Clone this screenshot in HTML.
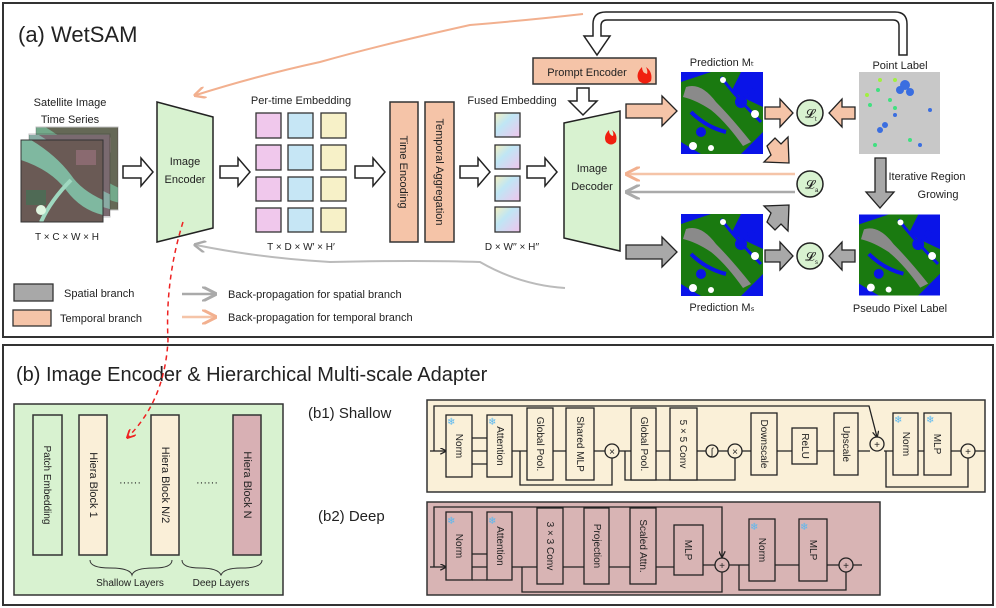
<!DOCTYPE html>
<html><head><meta charset="utf-8"><style>
html,body{margin:0;padding:0;background:#fff}
svg{display:block}
text{font-family:"Liberation Sans",sans-serif;fill:#222}
</style></head><body>
<svg width="996" height="608" viewBox="0 0 996 608" xmlns="http://www.w3.org/2000/svg">
<defs>
<linearGradient id="fg" x1="0" y1="0" x2="1" y2="1"><stop offset="0" stop-color="#f5f0c0"/><stop offset="0.4" stop-color="#bfe6f5"/><stop offset="1" stop-color="#f0c4ec"/></linearGradient>
<symbol id="map" viewBox="0 0 82 82">
<rect width="82" height="82" fill="#0a14e8"/>
<path d="M0 10 L30 0 L60 0 L50 20 L82 35 L82 60 L60 82 L20 82 L0 70 Z" fill="#1a7a10"/>
<path d="M5 15 Q20 10 35 30 Q50 45 70 70 L62 74 Q45 50 30 38 Q15 28 2 25 Z" fill="#8a8a8a"/>
<path d="M40 5 Q55 25 80 50" stroke="#0a14e8" stroke-width="3" fill="none"/>
<path d="M10 40 Q25 55 45 60" stroke="#0a14e8" stroke-width="4" fill="none"/>
<circle cx="20" cy="60" r="5" fill="#0a14e8"/><circle cx="60" cy="30" r="6" fill="#0a14e8"/><circle cx="70" cy="20" r="4" fill="#0a14e8"/>
<circle cx="12" cy="74" r="4" fill="#fff"/><circle cx="74" cy="42" r="4" fill="#fff"/><circle cx="30" cy="76" r="3" fill="#fff"/><circle cx="42" cy="8" r="3" fill="#fff"/>
</symbol>
<symbol id="sat" viewBox="0 0 82 82">
<rect width="82" height="82" fill="#6a5a55"/>
<path d="M0 20 Q30 30 45 50 Q60 70 82 75 L82 60 Q60 50 50 35 Q35 15 10 0 L0 0 Z" fill="#7fb8a0"/>
<path d="M20 82 Q30 60 50 40" stroke="#9fd8c0" stroke-width="4" fill="none"/>
<rect x="5" y="50" width="20" height="15" fill="#4f6a55"/><rect x="55" y="10" width="20" height="15" fill="#8a6a70"/>
<circle cx="20" cy="70" r="5" fill="#dff5e0"/>
</symbol>
<marker id="ag" viewBox="0 0 10 10" refX="8" refY="5" markerWidth="6" markerHeight="6" orient="auto"><path d="M0 0 L10 5 L0 10" fill="none" stroke="#aaa" stroke-width="2"/></marker>
<marker id="ao" viewBox="0 0 10 10" refX="8" refY="5" markerWidth="6" markerHeight="6" orient="auto"><path d="M0 0 L10 5 L0 10" fill="none" stroke="#f2b08f" stroke-width="2"/></marker>
<marker id="ar" viewBox="0 0 10 10" refX="8" refY="5" markerWidth="6" markerHeight="6" orient="auto"><path d="M0 0 L10 5 L0 10" fill="none" stroke="#e22" stroke-width="2"/></marker>
<marker id="ak" viewBox="0 0 10 10" refX="9" refY="5" markerWidth="5" markerHeight="5" orient="auto"><path d="M0 0 L10 5 L0 10" fill="none" stroke="#222" stroke-width="2"/></marker>
</defs>

<!-- Panel a -->
<rect x="3" y="3" width="990" height="334" fill="#fff" stroke="#333" stroke-width="2"/>
<text x="18" y="42" font-size="22">(a) WetSAM</text>

<text x="70" y="106" font-size="11" text-anchor="middle">Satellite Image</text>
<text x="70" y="123" font-size="11" text-anchor="middle">Time Series</text>
<svg x="36" y="127" width="82" height="83"><use href="#sat"/></svg><rect x="36" y="127" width="82" height="83" fill="#5a8a5a" opacity="0.3" stroke="#333"/>
<svg x="29" y="134" width="81" height="83"><use href="#sat"/></svg><rect x="29" y="134" width="81" height="83" fill="#a090b0" opacity="0.3" stroke="#333"/>
<svg x="21" y="140" width="82" height="82"><use href="#sat"/></svg><rect x="21" y="140" width="82" height="82" fill="none" stroke="#333"/>
<text x="67" y="240" font-size="10" text-anchor="middle">T × C × W × H</text>

<g fill="#fff" stroke="#222" stroke-width="1.5">
<polygon points="123,166 141,166 141,158 153,172 141,186 141,178 123,178"/>
<polygon points="220,166 238,166 238,158 250,172 238,186 238,178 220,178"/>
<polygon points="355,166 373,166 373,158 385,172 373,186 373,178 355,178"/>
<polygon points="460,166 478,166 478,158 490,172 478,186 478,178 460,178"/>
<polygon points="527,166 545,166 545,158 557,172 545,186 545,178 527,178"/>
<polygon points="577,88 589,88 589,101 597,101 583,115 569,101 577,101"/>
</g>
<path d="M907,55 L907,24 Q907,12 895,12 L606,12 Q593,12 593,24 L593,36 L584,36 L597,55 L610,36 L601,36 L601,26 Q601,20 607,20 L893,20 Q899,20 899,26 L899,55 Z" fill="#fff" stroke="#222" stroke-width="1.5"/>

<polygon points="157,102 213,117 213,228 157,242" fill="#d8f2d0" stroke="#222" stroke-width="1.5"/>
<text x="185" y="165" font-size="11" text-anchor="middle">Image</text>
<text x="185" y="183" font-size="11" text-anchor="middle">Encoder</text>

<text x="301" y="104" font-size="11" text-anchor="middle">Per-time Embedding</text>
<g stroke="#333" stroke-width="1.3">
<rect x="256" y="113" width="25" height="25" fill="#f0c8ec"/><rect x="288" y="113" width="25" height="25" fill="#c6e6f5"/><rect x="321" y="113" width="25" height="25" fill="#f7f1c8"/>
<rect x="256" y="145" width="25" height="25" fill="#f0c8ec"/><rect x="288" y="145" width="25" height="25" fill="#c6e6f5"/><rect x="321" y="145" width="25" height="25" fill="#f7f1c8"/>
<rect x="256" y="177" width="25" height="24" fill="#f0c8ec"/><rect x="288" y="177" width="25" height="24" fill="#c6e6f5"/><rect x="321" y="177" width="25" height="24" fill="#f7f1c8"/>
<rect x="256" y="208" width="25" height="24" fill="#f0c8ec"/><rect x="288" y="208" width="25" height="24" fill="#c6e6f5"/><rect x="321" y="208" width="25" height="24" fill="#f7f1c8"/>
<rect x="495" y="113" width="25" height="24" fill="url(#fg)"/><rect x="495" y="145" width="25" height="24" fill="url(#fg)"/><rect x="495" y="176" width="25" height="25" fill="url(#fg)"/><rect x="495" y="207" width="25" height="25" fill="url(#fg)"/>
</g>
<text x="301" y="250" font-size="10" text-anchor="middle">T × D × W′ × H′</text>
<text x="512" y="104" font-size="11" text-anchor="middle">Fused Embedding</text>
<text x="512" y="250" font-size="10" text-anchor="middle">D × W′′ × H′′</text>

<rect x="390" y="102" width="28" height="140" fill="#f5c4a8" stroke="#333" stroke-width="1.5"/>
<rect x="425" y="102" width="29" height="140" fill="#f5c4a8" stroke="#333" stroke-width="1.5"/>
<text transform="translate(400,172) rotate(90)" font-size="11" text-anchor="middle">Time Encoding</text>
<text transform="translate(436,172) rotate(90)" font-size="11" text-anchor="middle">Temporal Aggregation</text>

<polygon points="564,123 620,111 620,251 564,238" fill="#d8f2d0" stroke="#222" stroke-width="1.5"/>
<text x="592" y="172" font-size="11" text-anchor="middle">Image</text>
<text x="592" y="190" font-size="11" text-anchor="middle">Decoder</text>
<path d="M606,142 q-3,-6 3,-12 q0,5 4,6 q1,-3 -1,-6 q6,4 4,12 q-5,5 -10,0z" fill="#f02010"/>

<rect x="533" y="58" width="123" height="26" fill="#f5c4a8" stroke="#333" stroke-width="1.5"/>
<text x="587" y="76" font-size="11" text-anchor="middle">Prompt Encoder</text>
<path d="M639,81 q-4,-7 3,-14 q0,6 5,7 q1,-3 -1,-7 q7,5 5,14 q-6,5 -12,0z" fill="#f02010"/>

<!-- predictions -->
<text x="722" y="66" font-size="11" text-anchor="middle">Prediction Mₜ</text>
<svg x="681" y="72" width="82" height="82"><use href="#map"/></svg>
<text x="722" y="311" font-size="11" text-anchor="middle">Prediction Mₛ</text>
<svg x="681" y="214" width="82" height="82"><use href="#map"/></svg>
<text x="900" y="69" font-size="11" text-anchor="middle">Point Label</text>
<rect x="859" y="72" width="81" height="82" fill="#c8c8c8"/>
<g fill="#3a6ee0"><circle cx="905" cy="85" r="5"/><circle cx="900" cy="90" r="4"/><circle cx="910" cy="92" r="4"/><circle cx="880" cy="130" r="3"/><circle cx="885" cy="125" r="3"/><circle cx="930" cy="110" r="2"/><circle cx="895" cy="115" r="2"/><circle cx="920" cy="145" r="2"/></g>
<g fill="#40e080"><circle cx="878" cy="90" r="2"/><circle cx="890" cy="100" r="2"/><circle cx="870" cy="105" r="2"/><circle cx="895" cy="108" r="2"/><circle cx="910" cy="140" r="2"/><circle cx="875" cy="145" r="2"/></g>
<g fill="#a0f040"><circle cx="880" cy="80" r="2"/><circle cx="895" cy="80" r="2"/><circle cx="867" cy="95" r="2"/></g>
<text x="900" y="312" font-size="11" text-anchor="middle">Pseudo Pixel Label</text>
<svg x="859" y="214" width="81" height="82"><use href="#map"/></svg>

<g fill="#f5c4a8" stroke="#222" stroke-width="1.3">
<polygon points="626,104 662,104 662,96 677,111 662,126 662,118 626,118"/>
<polygon points="765,107 780,107 780,99 793,113 780,127 780,119 765,119"/>
<polygon points="855,107 842,107 842,99 829,113 842,127 842,119 855,119"/>
<polygon points="767,146 775,138 781,144 788,137 789,163 764,162 771,155"/>
</g>
<g fill="#a8a8a8" stroke="#222" stroke-width="1.3">
<polygon points="626,245 662,245 662,237 677,252 662,267 662,259 626,259"/>
<polygon points="765,250 780,250 780,242 793,256 780,270 780,262 765,262"/>
<polygon points="855,250 842,250 842,242 829,256 842,270 842,262 855,262"/>
<polygon points="767,222 775,230 781,224 788,231 789,205 764,206 771,213"/>
<polygon points="875,158 886,158 886,192 894,192 880,208 866,192 875,192"/>
</g>
<g fill="#d8f2d0" stroke="#222" stroke-width="1.5">
<circle cx="810" cy="113" r="13"/><circle cx="810" cy="184" r="13"/><circle cx="810" cy="256" r="13"/>
</g>
<text x="810" y="118" font-size="13" text-anchor="middle">𝓛</text><text x="815" y="121" font-size="6">t</text>
<text x="810" y="189" font-size="13" text-anchor="middle">𝓛</text><text x="815" y="192" font-size="6">a</text>
<text x="810" y="261" font-size="13" text-anchor="middle">𝓛</text><text x="815" y="264" font-size="6">s</text>
<line x1="795" y1="174" x2="628" y2="174" stroke="#f5c4a8" stroke-width="2.5" marker-end="url(#ao)"/>
<line x1="795" y1="192" x2="628" y2="192" stroke="#aaa" stroke-width="2.5" marker-end="url(#ag)"/>
<text x="927" y="180" font-size="11" text-anchor="middle">Iterative Region</text>
<text x="938" y="198" font-size="11" text-anchor="middle">Growing</text>

<path d="M583,14 Q530,20 470,25 Q380,45 320,62 Q260,75 196,95" fill="none" stroke="#f2b08f" stroke-width="2" marker-end="url(#ao)"/>
<path d="M565,288 Q520,285 480,262 Q420,260 330,262 Q260,258 196,245" fill="none" stroke="#bbb" stroke-width="2" marker-end="url(#ag)"/>

<rect x="14" y="284" width="39" height="17" fill="#a8a8a8" stroke="#333" stroke-width="1.3"/>
<text x="64" y="297" font-size="11">Spatial branch</text>
<rect x="13" y="310" width="38" height="16" fill="#f5c4a8" stroke="#333" stroke-width="1.3"/>
<text x="60" y="322" font-size="11">Temporal branch</text>
<line x1="182" y1="294" x2="214" y2="294" stroke="#aaa" stroke-width="2.5" marker-end="url(#ag)"/>
<line x1="182" y1="317" x2="214" y2="317" stroke="#f5c4a8" stroke-width="2.5" marker-end="url(#ao)"/>
<text x="228" y="298" font-size="11">Back-propagation for spatial branch</text>
<text x="228" y="321" font-size="11">Back-propagation for temporal branch</text>

<!-- Panel b -->
<rect x="3" y="345" width="990" height="260" fill="#fff" stroke="#333" stroke-width="2"/>
<text x="16" y="381" font-size="20">(b) Image Encoder &amp; Hierarchical Multi-scale Adapter</text>
<rect x="14" y="404" width="269" height="191" fill="#d8f2d0" stroke="#333" stroke-width="1.5"/>
<rect x="33" y="415" width="29" height="140" fill="#d8f2d0" stroke="#333" stroke-width="1.5"/>
<rect x="79" y="415" width="28" height="140" fill="#faefd8" stroke="#333" stroke-width="1.5"/>
<rect x="151" y="415" width="28" height="140" fill="#faefd8" stroke="#333" stroke-width="1.5"/>
<rect x="233" y="415" width="28" height="140" fill="#d8b0b4" stroke="#333" stroke-width="1.5"/>
<text transform="translate(44,485) rotate(90)" font-size="10" text-anchor="middle">Patch Embedding</text>
<text transform="translate(90,485) rotate(90)" font-size="11" text-anchor="middle">Hiera Block 1</text>
<text transform="translate(162,485) rotate(90)" font-size="11" text-anchor="middle">Hiera Block N/2</text>
<text transform="translate(244,485) rotate(90)" font-size="11" text-anchor="middle">Hiera Block N</text>
<text x="130" y="486" font-size="11" text-anchor="middle">······</text>
<text x="207" y="486" font-size="11" text-anchor="middle">······</text>
<path d="M90,560 q0,8 20,8 q20,0 22,7 q2,-7 22,-7 q18,0 18,-8" fill="none" stroke="#333"/>
<path d="M182,560 q0,8 18,8 q18,0 21,7 q3,-7 20,-7 q21,0 21,-8" fill="none" stroke="#333"/>
<text x="130" y="586" font-size="10" text-anchor="middle">Shallow Layers</text>
<text x="221" y="586" font-size="10" text-anchor="middle">Deep Layers</text>
<path d="M183,222 Q165,280 168,340 Q165,400 128,437" fill="none" stroke="#e22" stroke-width="1.5" stroke-dasharray="5,4" marker-end="url(#ar)"/>

<text x="308" y="418" font-size="15">(b1) Shallow</text>
<text x="318" y="521" font-size="15">(b2) Deep</text>

<!-- b1 -->
<rect x="427" y="400" width="558" height="92" fill="#faf0d8" stroke="#333" stroke-width="1.5"/>
<g stroke="#222" stroke-width="1.3" fill="none">
<path d="M430,451 L446,451" marker-end="url(#ak)"/>
<path d="M434,451 L434,406 L869,406 L877,437" marker-end="url(#ak)"/>
<path d="M472,438 L487,438 M472,451 L487,451 M472,464 L487,464"/>
<path d="M512,451 L527,451 M553,451 L566,451 M594,451 L605,451 M619,451 L631,451 M656,451 L670,451 M697,451 L706,451 M718,451 L729,451 M742,451 L751,451 M777,451 L792,451 M817,451 L834,451 M858,451 L870,451 M884,451 L893,451 M918,451 L924,451 M951,451 L961,451 M975,451 L985,451"/>
<path d="M520,451 L520,485 L612,485 L612,458"/>
<path d="M625,451 L625,480 L735,480 L735,458"/>
<path d="M886,451 L886,487 L968,487 L968,458"/>
</g>
<g fill="#faf0d8" stroke="#222" stroke-width="1.3">
<rect x="446" y="415" width="26" height="62"/><rect x="487" y="415" width="25" height="62"/>
<rect x="527" y="408" width="26" height="72"/><rect x="566" y="408" width="28" height="72"/>
<rect x="631" y="408" width="25" height="72"/><rect x="670" y="408" width="27" height="72"/>
<rect x="751" y="413" width="26" height="62"/><rect x="792" y="428" width="25" height="36"/>
<rect x="834" y="413" width="24" height="62"/><rect x="893" y="413" width="25" height="62"/><rect x="924" y="413" width="27" height="62"/>
<circle cx="612" cy="451" r="7"/><circle cx="712" cy="451" r="6"/><circle cx="735" cy="451" r="7"/><circle cx="877" cy="444" r="7"/><circle cx="968" cy="451" r="7"/>
</g>
<g font-size="10" text-anchor="middle">
<text transform="translate(456,446) rotate(90)">Norm</text>
<text transform="translate(497,446) rotate(90)">Attention</text>
<text transform="translate(537,444) rotate(90)">Global Pool.</text>
<text transform="translate(577,444) rotate(90)">Shared MLP</text>
<text transform="translate(641,444) rotate(90)">Global Pool.</text>
<text transform="translate(680,444) rotate(90)">5 × 5 Conv</text>
<text transform="translate(761,444) rotate(90)">Downscale</text>
<text transform="translate(802,446) rotate(90)">ReLU</text>
<text transform="translate(843,444) rotate(90)">Upscale</text>
<text transform="translate(903,444) rotate(90)">Norm</text>
<text transform="translate(934,444) rotate(90)">MLP</text>
<text x="612" y="455">×</text><text x="735" y="455">×</text><text x="877" y="448">+</text><text x="968" y="455">+</text><text x="712" y="455">∫</text>
</g>
<g font-size="10"><text x="447" y="425" style="fill:#5ab8f0">❄</text><text x="488" y="425" style="fill:#5ab8f0">❄</text><text x="894" y="423" style="fill:#5ab8f0">❄</text><text x="926" y="423" style="fill:#5ab8f0">❄</text></g>

<!-- b2 -->
<rect x="427" y="502" width="453" height="93" fill="#d8b4b4" stroke="#333" stroke-width="1.5"/>
<g stroke="#222" stroke-width="1.3" fill="none">
<path d="M430,567 L446,567" marker-end="url(#ak)"/>
<path d="M434,567 L434,507 L722,507 L722,557" marker-end="url(#ak)"/>
<path d="M472,554 L487,554 M472,567 L487,567 M472,580 L487,580"/>
<path d="M512,567 L537,567 M563,567 L584,567 M609,567 L630,567 M656,567 L674,567 M703,565 L715,565 M729,565 L749,565 M775,565 L799,565 M827,565 L839,565 M853,565 L862,565"/>
<path d="M522,567 L522,592 L722,592 L722,572"/>
<path d="M739,565 L739,590 L846,590 L846,572"/>
</g>
<g fill="#d8b4b4" stroke="#222" stroke-width="1.3">
<rect x="446" y="512" width="26" height="68"/><rect x="487" y="512" width="25" height="68"/>
<rect x="537" y="508" width="26" height="76"/><rect x="584" y="508" width="25" height="76"/>
<rect x="630" y="508" width="26" height="76"/><rect x="674" y="525" width="29" height="50"/>
<rect x="749" y="519" width="26" height="62"/><rect x="799" y="519" width="28" height="62"/>
<circle cx="722" cy="565" r="7"/><circle cx="846" cy="565" r="7"/>
</g>
<g font-size="10" text-anchor="middle">
<text transform="translate(456,546) rotate(90)">Norm</text>
<text transform="translate(497,546) rotate(90)">Attention</text>
<text transform="translate(547,546) rotate(90)">3 × 3 Conv</text>
<text transform="translate(594,546) rotate(90)">Projection</text>
<text transform="translate(640,546) rotate(90)">Scaled Attn.</text>
<text transform="translate(685,550) rotate(90)">MLP</text>
<text transform="translate(759,550) rotate(90)">Norm</text>
<text transform="translate(810,550) rotate(90)">MLP</text>
<text x="722" y="569">+</text><text x="846" y="569">+</text>
</g>
<g font-size="10"><text x="447" y="524" style="fill:#5ab8f0">❄</text><text x="488" y="524" style="fill:#5ab8f0">❄</text><text x="750" y="530" style="fill:#5ab8f0">❄</text><text x="800" y="530" style="fill:#5ab8f0">❄</text></g>
</svg>
</body></html>
